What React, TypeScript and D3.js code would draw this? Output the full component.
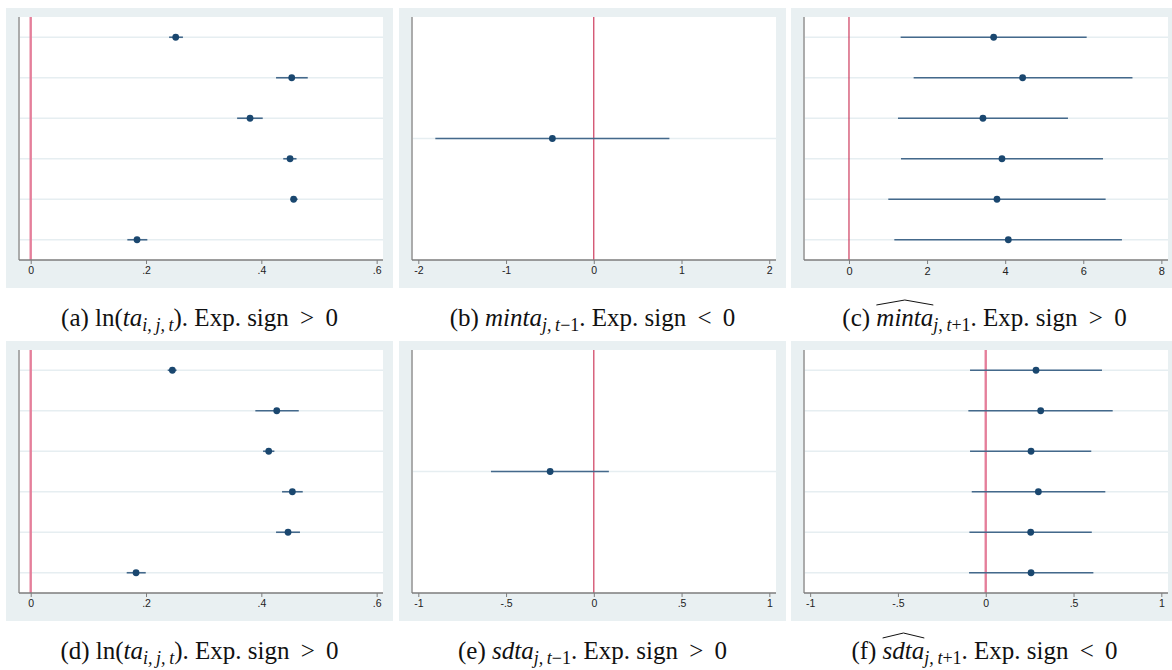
import React, { useEffect, useRef } from "react";
import * as d3 from "d3";

// point estimates + CI bounds, one entry per specification (top row first)
const coefA = [0.2515, 0.4527, 0.3804, 0.4498, 0.456, 0.1844];
const lowA = [0.24, 0.4255, 0.358, 0.438, 0.451, 0.1676];
const highA = [0.264, 0.4805, 0.4024, 0.461, 0.463, 0.2023];

const coefB = [-0.472];
const lowB = [-1.806];
const highB = [0.862];

const coefC = [3.705, 4.447, 3.431, 3.918, 3.79, 4.08];
const lowC = [1.323, 1.656, 1.255, 1.332, 1.007, 1.161];
const highC = [6.087, 7.26, 5.608, 6.505, 6.573, 6.99];

const coefD = [0.2457, 0.4267, 0.4128, 0.4538, 0.4463, 0.1827];
const lowD = [0.2376, 0.3896, 0.403, 0.4359, 0.4255, 0.1665];
const highD = [0.253, 0.4649, 0.4226, 0.4718, 0.467, 0.1995];

const coefE = [-0.249];
const lowE = [-0.586];
const highE = [0.0857];

const coefF = [0.2864, 0.313, 0.258, 0.2997, 0.256, 0.258];
const lowF = [-0.0894, -0.099, -0.0894, -0.0797, -0.093, -0.095];
const highF = [0.662, 0.723, 0.601, 0.681, 0.604, 0.613];

// x axis ticks
const ticksLn = [0, 0.2, 0.4, 0.6];
const ticksMinta = [-2, -1, 0, 1, 2];
const ticksMintaHat = [0, 2, 4, 6, 8];
const ticksSdta = [-1, -0.5, 0, 0.5, 1];

// caption pieces: r = roman, i = italic, s = italic subscript, sr = roman subscript, h = italic with wide hat
const capA = [["r", "(a) ln("], ["i", "ta"], ["s", "i,\u2009j,\u2009t"], ["r", "). Exp. sign \u2009> \u20090"]];
const capB = [["r", "(b) "], ["i", "minta"], ["s", "j,\u2009t"], ["sr", "\u22121"], ["r", ". Exp. sign \u2009< \u20090"]];
const capC = [["r", "(c) "], ["h", "minta"], ["s", "j,\u2009t"], ["sr", "+1"], ["r", ". Exp. sign \u2009> \u20090"]];
const capD = [["r", "(d) ln("], ["i", "ta"], ["s", "i,\u2009j,\u2009t"], ["r", "). Exp. sign \u2009> \u20090"]];
const capE = [["r", "(e) "], ["i", "sdta"], ["s", "j,\u2009t"], ["sr", "\u22121"], ["r", ". Exp. sign \u2009> \u20090"]];
const capF = [["r", "(f) "], ["h", "sdta"], ["s", "j,\u2009t"], ["sr", "+1"], ["r", ". Exp. sign \u2009< \u20090"]];

const pink = { color: "#e57f9b", width: 2.4 };
const red = { color: "#c92a4f", width: 1.1 };

const panels = [
  { coef: coefA, low: lowA, high: highA, ticks: ticksLn, domain: [-0.0203, 0.611], cap: capA, ref: pink, col: 0, row: 0 },
  { coef: coefB, low: lowB, high: highB, ticks: ticksMinta, domain: [-2.072, 2.077], cap: capB, ref: red, col: 1, row: 0 },
  { coef: coefC, low: lowC, high: highC, ticks: ticksMintaHat, domain: [-1.152, 8.17], cap: capC, ref: red, col: 2, row: 0 },
  { coef: coefD, low: lowD, high: highD, ticks: ticksLn, domain: [-0.0203, 0.611], cap: capD, ref: pink, col: 0, row: 1 },
  { coef: coefE, low: lowE, high: highE, ticks: ticksSdta, domain: [-1.036, 1.038], cap: capE, ref: red, col: 1, row: 1 },
  { coef: coefF, low: lowF, high: highF, ticks: ticksSdta, domain: [-1.035, 1.038], cap: capF, ref: pink, col: 2, row: 1 },
];

const colX = [6, 399, 791];
const rowY = [8, 341];
const capBaseline = [326, 659];

const fmt = (d) => String(d).replace("0.", ".");

export default function App() {
  const ref = useRef(null);

  useEffect(() => {
    const svg = d3.select(ref.current);
    svg.selectAll("*").remove();

    panels.forEach((p) => {
      const x0 = colX[p.col];
      const y0 = rowY[p.row];
      const left = x0 + 13;
      const right = x0 + 377;
      const top = y0 + 9;
      const bottom = y0 + 252;

      const g = svg.append("g");

      // graph region + plot region
      g.append("rect").attr("x", x0).attr("y", y0).attr("width", 387).attr("height", 280).attr("fill", "#e9f0f2");
      g.append("rect").attr("x", left).attr("y", top).attr("width", right - left).attr("height", bottom - top).attr("fill", "#fff");

      const x = d3.scaleLinear().domain(p.domain).range([left, right]);
      const y = d3.scaleLinear().domain([0.5, p.coef.length + 0.5]).range([top, bottom]);
      const rows = p.coef.map((c, i) => ({ c, lo: p.low[i], hi: p.high[i], r: i + 1 }));

      // gridlines
      g.selectAll(".grid")
        .data(rows)
        .join("line")
        .attr("x1", left)
        .attr("x2", right)
        .attr("y1", (d) => y(d.r))
        .attr("y2", (d) => y(d.r))
        .attr("stroke", "#e6eef1")
        .attr("stroke-width", 1.4);

      // reference line at zero
      g.append("line")
        .attr("x1", x(0))
        .attr("x2", x(0))
        .attr("y1", top)
        .attr("y2", bottom)
        .attr("stroke", p.ref.color)
        .attr("stroke-width", p.ref.width);

      // confidence intervals
      g.selectAll(".ci")
        .data(rows)
        .join("line")
        .attr("x1", (d) => x(d.lo))
        .attr("x2", (d) => x(d.hi))
        .attr("y1", (d) => y(d.r))
        .attr("y2", (d) => y(d.r))
        .attr("stroke", "#44698b")
        .attr("stroke-width", 1.6);

      g.selectAll(".pt")
        .data(rows)
        .join("circle")
        .attr("cx", (d) => x(d.c))
        .attr("cy", (d) => y(d.r))
        .attr("r", 3.4)
        .attr("fill", "#1a476f");

      // axes
      g.append("line").attr("x1", left).attr("x2", left).attr("y1", top).attr("y2", bottom).attr("stroke", "#a3a3a3").attr("stroke-width", 1.8);

      const xAxis = g
        .append("g")
        .attr("transform", `translate(0,${bottom})`)
        .call(d3.axisBottom(x).tickValues(p.ticks).tickSize(4).tickSizeOuter(0).tickFormat(fmt));
      xAxis.select(".domain").attr("d", `M${left},0H${right}`).attr("stroke", "#7d7d7d").attr("stroke-width", 1.4);
      xAxis.selectAll(".tick line").attr("stroke", "#7d7d7d");
      xAxis
        .selectAll(".tick text")
        .attr("y", 7)
        .attr("fill", "#222")
        .attr("font-family", "'Liberation Sans', Arial, sans-serif")
        .attr("font-size", p.col === 2 && p.row === 0 ? 11 : 10.5);

      // caption
      const cx = x0 + 193.5;
      const text = svg
        .append("text")
        .attr("x", cx)
        .attr("y", capBaseline[p.row])
        .attr("text-anchor", "middle")
        .attr("font-family", "'Liberation Serif', 'Times New Roman', serif")
        .attr("font-size", 25)
        .attr("fill", "#111");

      let shift = 0;
      let idx = 0;
      const hats = [];
      p.cap.forEach(([kind, s]) => {
        const sub = kind === "s" || kind === "sr";
        const want = sub ? 5 : 0;
        const ts = text.append("tspan").text(s).attr("dy", want - shift);
        shift = want;
        if (kind !== "r" && kind !== "sr") ts.attr("font-style", "italic");
        if (sub) ts.attr("font-size", 18);
        if (kind === "h") hats.push([idx, idx + s.length - 1]);
        idx += s.length;
      });

      const node = text.node();
      hats.forEach(([a, b]) => {
        const sx = node.getStartPositionOfChar(a).x;
        const ex = node.getEndPositionOfChar(b).x;
        const by = capBaseline[p.row] - 21;
        const mx = (sx + ex) / 2;
        svg
          .append("path")
          .attr("d", `M${sx},${by} L${mx},${by - 5} L${ex},${by}`)
          .attr("fill", "none")
          .attr("stroke", "#111")
          .attr("stroke-width", 1);
      });
    });
  }, []);

  return <svg ref={ref} width={1172} height={670} style={{ position: "absolute", left: 0, top: 0, background: "#fff" }} />;
}
